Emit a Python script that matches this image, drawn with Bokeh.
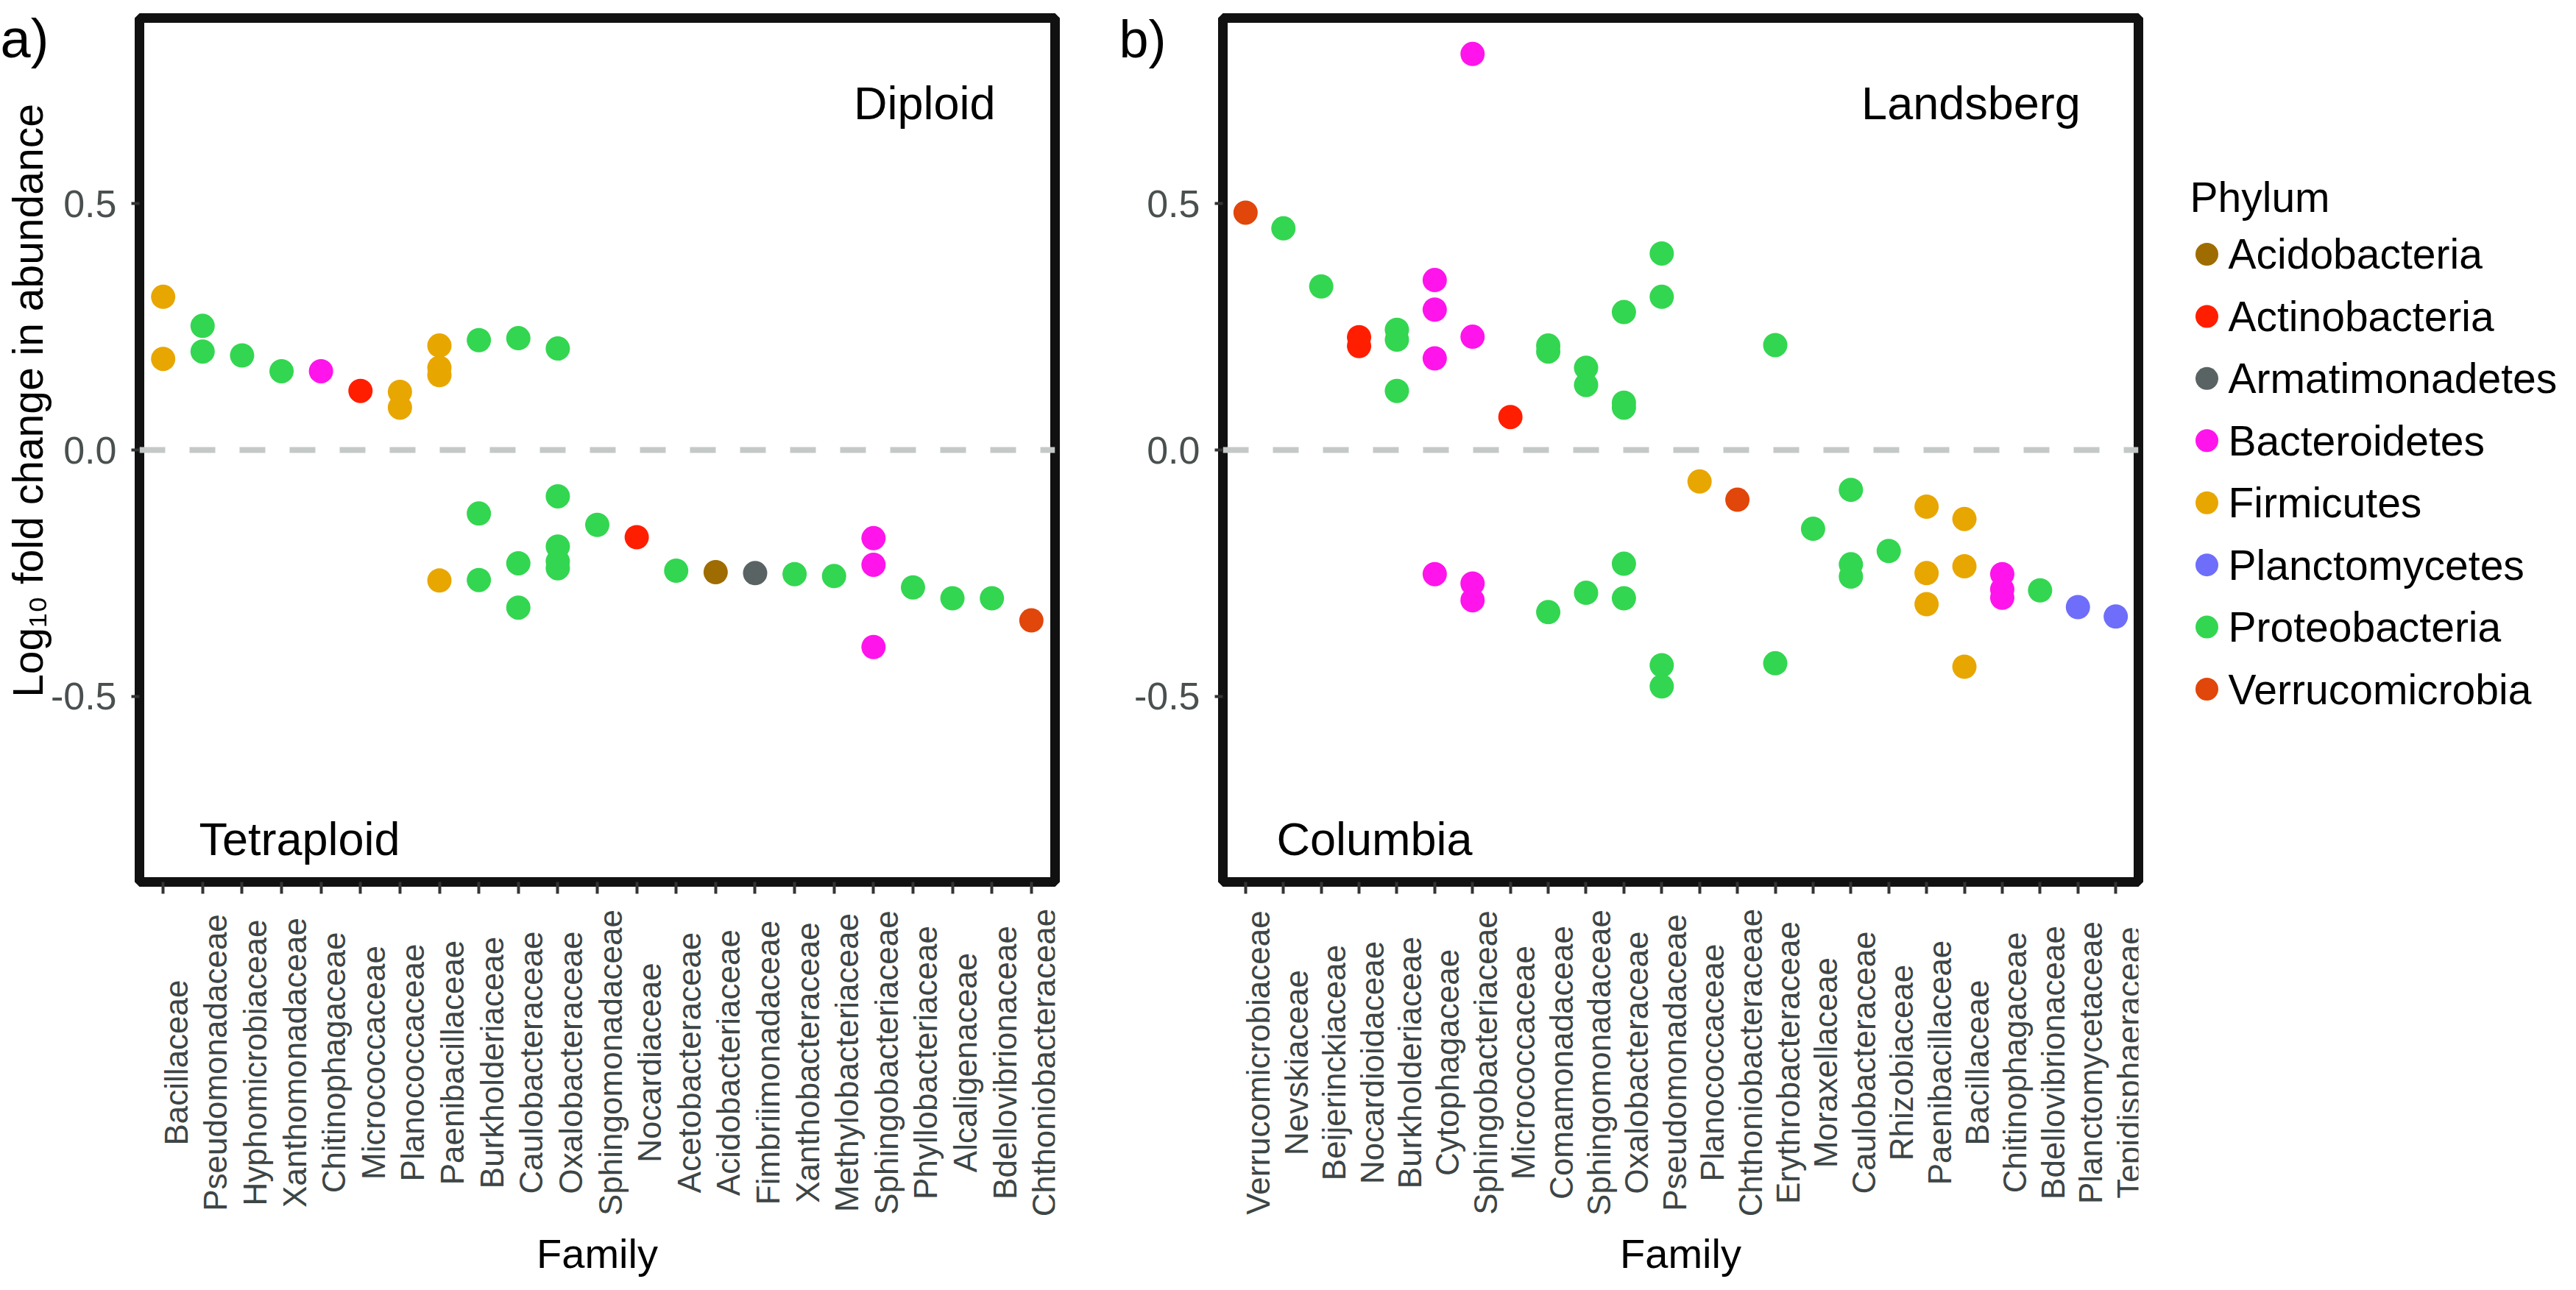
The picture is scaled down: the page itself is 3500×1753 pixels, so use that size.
import math
from bokeh.plotting import figure
from bokeh.models import (FactorRange, Range1d, FixedTicker, PrintfTickFormatter,
                          Span, Label)
from bokeh.layouts import row, column
from bokeh.core.properties import value
from bokeh.embed import file_html
from bokeh.resources import INLINE

FONT = "Liberation Sans"

# ---------------- data ----------------
phyla = ["Acidobacteria", "Actinobacteria", "Armatimonadetes", "Bacteroidetes",
         "Firmicutes", "Planctomycetes", "Proteobacteria", "Verrucomicrobia"]
phylum_colors = ["#9E6C00", "#FF1E00", "#5A6363", "#FF14EB",
                 "#E8A600", "#6E6EFA", "#33D650", "#E1460A"]
legend_title = "Phylum"

# panel a) Diploid vs Tetraploid
fam_a = ["Bacillaceae", "Pseudomonadaceae", "Hyphomicrobiaceae", "Xanthomonadaceae",
         "Chitinophagaceae", "Micrococcaceae", "Planococcaceae", "Paenibacillaceae",
         "Burkholderiaceae", "Caulobacteraceae", "Oxalobacteraceae", "Sphingomonadaceae",
         "Nocardiaceae", "Acetobacteraceae", "Acidobacteriaceae", "Fimbriimonadaceae",
         "Xanthobacteraceae", "Methylobacteriaceae", "Sphingobacteriaceae",
         "Phyllobacteriaceae", "Alcaligenaceae", "Bdellovibrionaceae", "Chthoniobacteraceae"]
fam_a_phylum = ["Firmicutes", "Proteobacteria", "Proteobacteria", "Proteobacteria",
                "Bacteroidetes", "Actinobacteria", "Firmicutes", "Firmicutes",
                "Proteobacteria", "Proteobacteria", "Proteobacteria", "Proteobacteria",
                "Actinobacteria", "Proteobacteria", "Acidobacteria", "Armatimonadetes",
                "Proteobacteria", "Proteobacteria", "Bacteroidetes",
                "Proteobacteria", "Proteobacteria", "Proteobacteria", "Verrucomicrobia"]
pts_a_family = ["Bacillaceae", "Bacillaceae", "Pseudomonadaceae", "Pseudomonadaceae",
                "Hyphomicrobiaceae", "Xanthomonadaceae", "Chitinophagaceae", "Micrococcaceae",
                "Planococcaceae", "Planococcaceae",
                "Paenibacillaceae", "Paenibacillaceae", "Paenibacillaceae", "Paenibacillaceae",
                "Burkholderiaceae", "Burkholderiaceae", "Burkholderiaceae",
                "Caulobacteraceae", "Caulobacteraceae", "Caulobacteraceae",
                "Oxalobacteraceae", "Oxalobacteraceae", "Oxalobacteraceae", "Oxalobacteraceae",
                "Oxalobacteraceae",
                "Sphingomonadaceae", "Nocardiaceae", "Acetobacteraceae", "Acidobacteriaceae",
                "Fimbriimonadaceae", "Xanthobacteraceae", "Methylobacteriaceae",
                "Sphingobacteriaceae", "Sphingobacteriaceae", "Sphingobacteriaceae",
                "Phyllobacteriaceae", "Alcaligenaceae", "Bdellovibrionaceae", "Chthoniobacteraceae"]
pts_a_value = [0.311, 0.185, 0.252, 0.200,
               0.192, 0.160, 0.160, 0.120,
               0.118, 0.086,
               0.212, 0.167, 0.152, -0.265,
               0.223, -0.129, -0.264,
               0.227, -0.230, -0.320,
               0.206, -0.094, -0.196, -0.226, -0.240,
               -0.152, -0.177, -0.245, -0.248,
               -0.250, -0.252, -0.256,
               -0.179, -0.233, -0.400,
               -0.279, -0.301, -0.301, -0.346]

# panel b) Landsberg vs Columbia
fam_b = ["Verrucomicrobiaceae", "Nevskiaceae", "Beijerinckiaceae", "Nocardioidaceae",
         "Burkholderiaceae", "Cytophagaceae", "Sphingobacteriaceae", "Micrococcaceae",
         "Comamonadaceae", "Sphingomonadaceae", "Oxalobacteraceae", "Pseudomonadaceae",
         "Planococcaceae", "Chthoniobacteraceae", "Erythrobacteraceae", "Moraxellaceae",
         "Caulobacteraceae", "Rhizobiaceae", "Paenibacillaceae", "Bacillaceae",
         "Chitinophagaceae", "Bdellovibrionaceae", "Planctomycetaceae", "Tepidisphaeraceae"]
fam_b_phylum = ["Verrucomicrobia", "Proteobacteria", "Proteobacteria", "Actinobacteria",
                "Proteobacteria", "Bacteroidetes", "Bacteroidetes", "Actinobacteria",
                "Proteobacteria", "Proteobacteria", "Proteobacteria", "Proteobacteria",
                "Firmicutes", "Verrucomicrobia", "Proteobacteria", "Proteobacteria",
                "Proteobacteria", "Proteobacteria", "Firmicutes", "Firmicutes",
                "Bacteroidetes", "Proteobacteria", "Planctomycetes", "Planctomycetes"]
pts_b_family = ["Verrucomicrobiaceae", "Nevskiaceae", "Beijerinckiaceae",
                "Nocardioidaceae", "Nocardioidaceae",
                "Burkholderiaceae", "Burkholderiaceae", "Burkholderiaceae",
                "Cytophagaceae", "Cytophagaceae", "Cytophagaceae", "Cytophagaceae",
                "Sphingobacteriaceae", "Sphingobacteriaceae", "Sphingobacteriaceae",
                "Sphingobacteriaceae",
                "Micrococcaceae",
                "Comamonadaceae", "Comamonadaceae", "Comamonadaceae",
                "Sphingomonadaceae", "Sphingomonadaceae", "Sphingomonadaceae",
                "Oxalobacteraceae", "Oxalobacteraceae", "Oxalobacteraceae", "Oxalobacteraceae",
                "Oxalobacteraceae",
                "Pseudomonadaceae", "Pseudomonadaceae", "Pseudomonadaceae", "Pseudomonadaceae",
                "Planococcaceae", "Chthoniobacteraceae",
                "Erythrobacteraceae", "Erythrobacteraceae",
                "Moraxellaceae",
                "Caulobacteraceae", "Caulobacteraceae", "Caulobacteraceae",
                "Rhizobiaceae",
                "Paenibacillaceae", "Paenibacillaceae", "Paenibacillaceae",
                "Bacillaceae", "Bacillaceae", "Bacillaceae",
                "Chitinophagaceae", "Chitinophagaceae", "Chitinophagaceae",
                "Bdellovibrionaceae", "Planctomycetaceae", "Tepidisphaeraceae"]
pts_b_value = [0.482, 0.450, 0.332,
               0.229, 0.211,
               0.244, 0.224, 0.120,
               0.345, 0.285, 0.186, -0.252,
               0.804, 0.230, -0.271, -0.305,
               0.067,
               0.212, 0.200, -0.329,
               0.167, 0.132, -0.290,
               0.280, 0.096, 0.086, -0.231, -0.301,
               0.399, 0.311, -0.437, -0.480,
               -0.064, -0.101,
               0.213, -0.433,
               -0.160,
               -0.081, -0.232, -0.257,
               -0.205,
               -0.115, -0.250, -0.313,
               -0.140, -0.236, -0.440,
               -0.252, -0.283, -0.300,
               -0.285, -0.319, -0.338]

y_ticks = [-0.5, 0.0, 0.5]
y_label = "Log\u2081\u2080 fold change in abundance"
x_label = "Family"

# ---------------- layout constants ----------------
MAIN_H = 1216          # main figure: top border 24 + frame 1174 + tick strip 18
LAB_H = 521            # category-name strip below each panel
MB_TOP = 24
MB_BOTTOM = 18
WA, LA, RA = 1501, 189, 68
WB, LB, RB = 1472, 160, 68
WL = 511


def make_panel(fams, fam_phylum, pt_fam, pt_val, width, mb_left, mb_right,
               top_text, bottom_text, top_x, bottom_x):
    xr = FactorRange(factors=fams, range_padding=0.1, range_padding_units="absolute")
    p = figure(width=width, height=MAIN_H, output_backend="svg", toolbar_location=None,
               x_range=xr, y_range=Range1d(-0.877, 0.877),
               min_border_left=mb_left, min_border_right=mb_right,
               min_border_top=MB_TOP, min_border_bottom=MB_BOTTOM)
    p.background_fill_color = "white"
    p.border_fill_color = "white"
    p.grid.visible = False
    p.outline_line_color = "#111111"
    p.outline_line_width = 13

    p.add_layout(Span(location=0, dimension="width", line_color="#C4C9C8", line_width=8,
                      line_dash="35 33", level="underlay"))

    for ph, col in zip(phyla, phylum_colors):
        xs = [f for f in pt_fam if fam_phylum[fams.index(f)] == ph]
        ys = [v for f, v in zip(pt_fam, pt_val) if fam_phylum[fams.index(f)] == ph]
        if xs:
            p.scatter(x=xs, y=ys, size=33, marker="circle", fill_color=col, line_color=None)

    # y axis
    p.yaxis.ticker = FixedTicker(ticks=y_ticks)
    p.yaxis.formatter = PrintfTickFormatter(format="%.1f")
    p.yaxis.axis_line_color = None
    p.yaxis.minor_tick_line_color = None
    p.yaxis.major_tick_in = 0
    p.yaxis.major_tick_out = 11
    p.yaxis.major_tick_line_width = 4
    p.yaxis.major_tick_line_color = "#333333"
    p.yaxis.major_label_standoff = 20
    p.yaxis.major_label_text_font = FONT
    p.yaxis.major_label_text_font_size = "52px"
    p.yaxis.major_label_text_color = "#4A5050"

    # x axis: only the tick marks here
    p.xaxis.axis_line_color = None
    p.xaxis.major_tick_in = 0
    p.xaxis.major_tick_out = 16
    p.xaxis.major_tick_line_width = 4
    p.xaxis.major_tick_line_color = "#333333"
    p.xaxis.major_label_text_color = None
    p.xaxis.major_label_text_font_size = "1px"
    p.xaxis.major_label_standoff = 0

    p.add_layout(Label(x=top_x, y=0.705, text=top_text, text_align="right",
                       text_baseline="alphabetic", text_font=FONT,
                       text_font_size="63px", text_color="black"))
    p.add_layout(Label(x=bottom_x, y=-0.789, text=bottom_text, text_align="left",
                       text_baseline="alphabetic", text_font=FONT,
                       text_font_size="63px", text_color="black"))

    # strip below with the rotated family names and the axis title
    q = figure(width=width, height=LAB_H, output_backend="svg", toolbar_location=None,
               x_range=xr, y_range=Range1d(0, 1),
               min_border_left=mb_left, min_border_right=mb_right,
               min_border_top=0, min_border_bottom=65)
    q.background_fill_color = "white"
    q.border_fill_color = "white"
    q.outline_line_color = None
    q.grid.visible = False
    q.yaxis.visible = False
    q.xaxis.axis_line_color = None
    q.xaxis.major_tick_line_color = None
    q.xaxis.minor_tick_line_color = None
    q.xaxis.major_tick_out = 0
    q.xaxis.major_label_text_color = None
    q.xaxis.major_label_text_font_size = "1px"
    q.xaxis.major_label_standoff = 0
    q.xaxis.axis_label = x_label
    q.xaxis.axis_label_text_font = FONT
    q.xaxis.axis_label_text_font_size = "56px"
    q.xaxis.axis_label_text_font_style = "normal"
    q.xaxis.axis_label_text_color = "black"
    q.xaxis.axis_label_standoff = 0
    q.text(x=fams, y=[0.5] * len(fams), text=fams, angle=math.pi / 2,
           text_align="center", text_baseline="top", x_offset=-7,
           text_font=value(FONT), text_font_size="44px", text_color="#3D4545")
    return p, q


p_a, q_a = make_panel(fam_a, fam_a_phylum, pts_a_family, pts_a_value,
                      WA, LA, RA, "Diploid", "Tetraploid", 21.59, 1.41)
p_b, q_b = make_panel(fam_b, fam_b_phylum, pts_b_family, pts_b_value,
                      WB, LB, RB, "Landsberg", "Columbia", 22.57, 1.32)

# y-axis title of panel a (side panel left of the axis)
p_a.add_layout(Label(x=36, y=654, x_units="screen", y_units="screen", text=y_label,
                     angle=math.pi / 2, text_align="center", text_baseline="middle",
                     text_font=FONT, text_font_size="57px", text_color="black"), "left")

# panel tags (side panels, so they are not clipped to the frame)
p_a.add_layout(Label(x=-1433, y=1146, x_units="screen", y_units="screen", text="a)",
                     text_align="left", text_baseline="alphabetic",
                     text_font=FONT, text_font_size="74px", text_color="black"), "right")
p_b.add_layout(Label(x=-1385, y=1146, x_units="screen", y_units="screen", text="b)",
                     text_align="left", text_baseline="alphabetic",
                     text_font=FONT, text_font_size="72px", text_color="black"), "right")

# legend panel
leg = figure(width=WL, height=MAIN_H, output_backend="svg", toolbar_location=None,
             x_range=Range1d(0, WL), y_range=Range1d(10.316, -4.086), min_border=0)
leg.axis.visible = False
leg.grid.visible = False
leg.outline_line_color = None
leg.background_fill_color = "white"
leg.border_fill_color = "white"
rows = list(range(len(phyla)))
leg.scatter(x=[25] * len(phyla), y=rows, size=31, marker="circle",
            fill_color=phylum_colors, line_color=None)
leg.text(x=[54] * len(phyla), y=rows, text=phyla, text_baseline="middle",
         text_align="left", text_font=value(FONT), text_font_size="57px",
         text_color="black")
leg.text(x=[2], y=[-0.912], text=[legend_title], text_baseline="alphabetic",
         text_align="left", text_font=value(FONT), text_font_size="57px",
         text_color="black")

layout = row(column(p_a, q_a), column(p_b, q_b), leg)
open("out.html", "w").write(file_html(layout, INLINE))
